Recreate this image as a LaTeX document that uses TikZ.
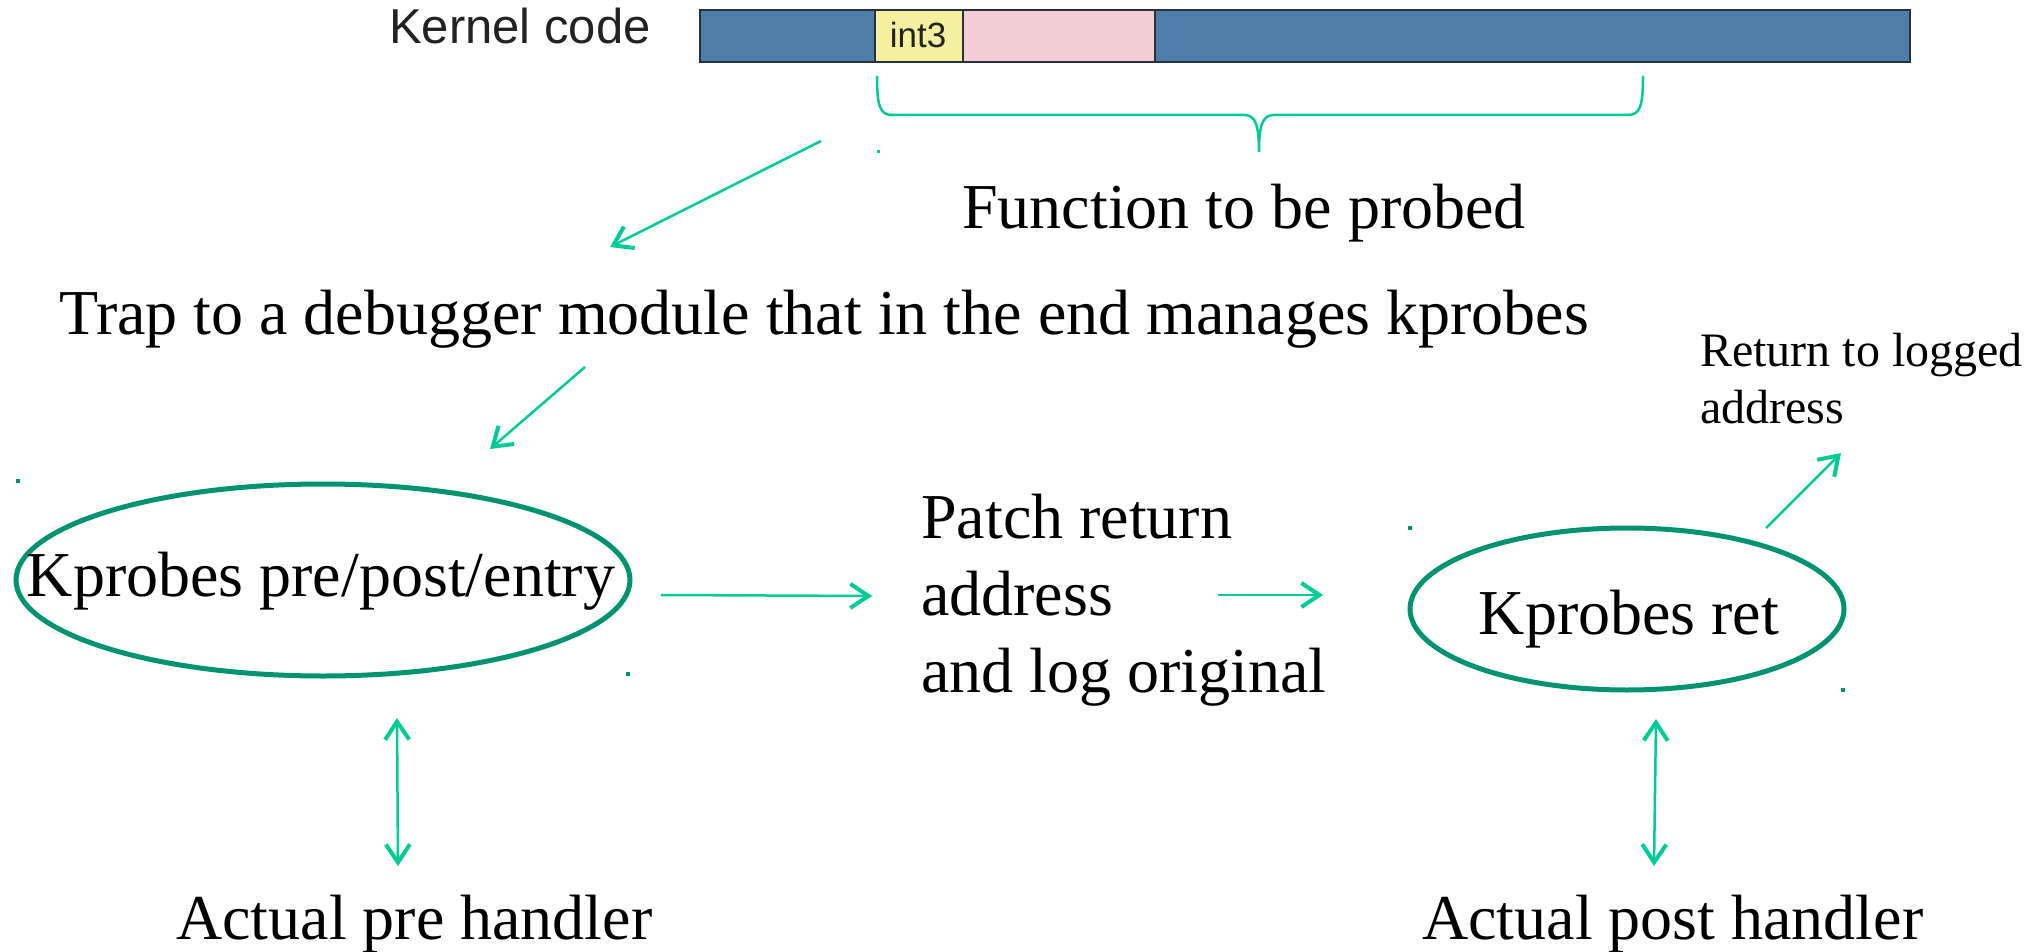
\documentclass[tikz,border=0pt]{standalone}
\usepackage{fontspec}
\setmainfont{Liberation Serif}
\newfontfamily\sansf{Liberation Sans}
\usetikzlibrary{arrows.meta,shapes.geometric}
\definecolor{connc}{RGB}{0,204,150}
\definecolor{ellc}{RGB}{0,147,112}
\definecolor{barblue}{RGB}{79,125,170}
\definecolor{baryel}{RGB}{245,240,160}
\definecolor{barpink}{RGB}{242,204,214}
\definecolor{barline}{RGB}{40,50,60}
\definecolor{ktext}{RGB}{34,34,34}
\tikzset{
  bigtext/.style={font=\fontsize{64}{77}\selectfont, inner sep=0pt, anchor=base west, align=left},
  smalltext/.style={font=\fontsize{48}{57}\selectfont, inner sep=0pt, anchor=base west, align=left},
  barseg/.style={draw=barline, line width=2pt, inner sep=0pt},
  ell/.style={ellipse, draw=ellc, line width=5pt, inner sep=0pt},
  conn/.style={draw=connc, line width=2.5pt, -{Straight Barb[length=18pt,width=24pt,line width=4pt]}},
  dconn/.style={draw=connc, line width=2.5pt, {Straight Barb[length=18pt,width=24pt,line width=4pt]}-{Straight Barb[length=18pt,width=24pt,line width=4pt]}},
  bracestyle/.style={draw=connc, line width=2.5pt},
  dotsq/.style={fill=ellc, inner sep=0pt, minimum size=4pt},
}
\begin{document}
\begin{tikzpicture}[x=1pt,y=-1pt]
\useasboundingbox (0,0) rectangle (2040,952);
% kernel code bar
\node[font=\sansf\fontsize{49}{54}\selectfont, text=ktext, inner sep=0pt, anchor=base] (kc) at (520,44) {Kernel code};
\node[barseg, fill=barblue, minimum width=1210pt, minimum height=52pt, anchor=north west] (bar) at (699,9) {};
\node[barseg, fill=baryel, minimum width=88pt, minimum height=52pt, anchor=north west] (yel) at (874,9) {};
\node[barseg, fill=barpink, minimum width=192pt, minimum height=52pt, anchor=north west] (pink) at (962,9) {};
\node[font=\sansf\fontsize{35}{40}\selectfont, text=ktext, inner sep=0pt, anchor=base] (int) at (918,48) {int3};
% brace
\draw[bracestyle] (877,76) .. controls (877,106) and (880,115) .. (892,115) -- (1244,115)
  .. controls (1255,115) and (1259,124) .. (1259,152)
  .. controls (1259,124) and (1263,115) .. (1274,115) -- (1628,115)
  .. controls (1640,115) and (1643,106) .. (1643,76);
\node[fill=connc, inner sep=0pt, minimum size=3pt] (d0) at (878,152) {};
% texts
\node[bigtext, anchor=base] (func) at (1244,229) {Function to be probed};
\node[bigtext] (trap) at (59,334) {Trap to a debugger module that in the end manages kprobes};
\node[smalltext] (ret) at (1700,423) {Return to logged\\address};
\node[bigtext] (patch) at (921,692) {Patch return\\address\\and log original};
\node[bigtext] (apre) at (176,939) {Actual pre handler};
\node[bigtext] (apost) at (1422,939) {Actual post handler};
% ellipses
\node[ell, minimum width=614pt, minimum height=192pt] (pre) at (323,580) {};
\node[bigtext, anchor=base] (pret) at (321,596) {Kprobes pre/post/entry};
\node[ell, minimum width=434pt, minimum height=162pt] (kret) at (1627,609) {};
\node[bigtext, anchor=base] (kprett) at (1629,634) {Kprobes ret};
% dots
\node[dotsq] (d1) at (18,481) {};
\node[dotsq] (d2) at (628,674) {};
\node[dotsq] (d3) at (1410,528) {};
\node[dotsq] (d4) at (1843,690) {};
% arrow end points
\coordinate (a1s) at (821,141);
\coordinate (a1e) at (610,247);
\coordinate (a2s) at (585,367);
\coordinate (a2e) at (490,449);
\coordinate (a3s) at (661,595);
\coordinate (a3e) at (872,596);
\coordinate (a4s) at (1218,595);
\coordinate (a4e) at (1323,595);
\coordinate (a5s) at (1766,528);
\coordinate (a5e) at (1841,453);
\coordinate (b1s) at (397,718);
\coordinate (b1e) at (398,866);
\coordinate (b2s) at (1656,719);
\coordinate (b2e) at (1654,866);
\draw[conn] (a1s) -- (a1e);
\draw[conn] (a2s) -- (a2e);
\draw[conn] (a3s) -- (a3e);
\draw[conn] (a4s) -- (a4e);
\draw[conn] (a5s) -- (a5e);
\draw[dconn] (b1s) -- (b1e);
\draw[dconn] (b2s) -- (b2e);
\end{tikzpicture}
\end{document}
